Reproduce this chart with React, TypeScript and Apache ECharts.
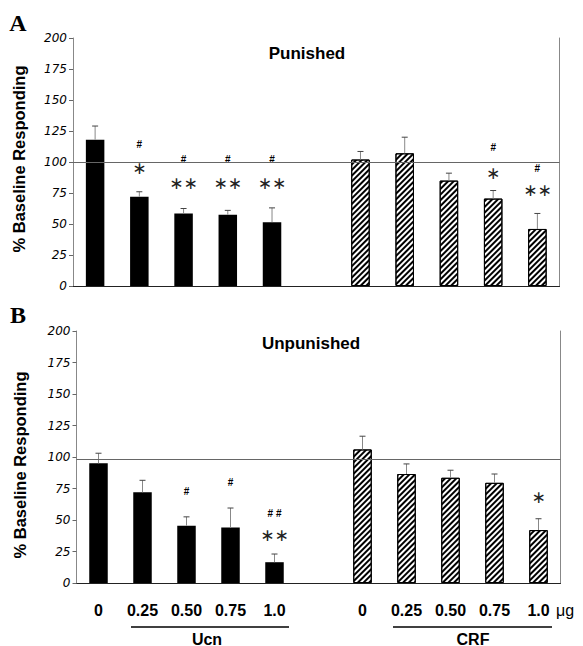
import React, { useEffect, useRef } from "react";
import * as echarts from "echarts";

// Categories (index 5 is the gap between the two drug groups)
const CATS = ["0", "0.25", "0.50", "0.75", "1.0", "", "0", "0.25", "0.50", "0.75", "1.0"];
const UCN_IDX = [0, 1, 2, 3, 4];
const CRF_IDX = [6, 7, 8, 9, 10];

// Panel A: Punished
const UCN_PUN = [118, 72, 58.5, 57.5, 51.5];
const UCN_PUN_ERR = [129, 76, 62.5, 61, 63];
const CRF_PUN = [102, 107, 85, 70.5, 46];
const CRF_PUN_ERR = [108.5, 120, 91, 77, 58.5];

// Panel B: Unpunished
const UCN_UNP = [95, 72, 45.5, 44, 16.5];
const UCN_UNP_ERR = [103, 81.5, 52.5, 59.5, 23];
const CRF_UNP = [106, 86.5, 83.5, 79.5, 42];
const CRF_UNP_ERR = [116.5, 94.5, 89.5, 86.5, 51];

// Reference (baseline) lines
const REF_LINES = [100, 98.5];

// Significance marks: [category, y, text]
const PUN_MARKS: [number, number, string][] = [
  [1, 114.5, "#"], [1, 95, "*"],
  [2, 102, "#"], [2, 83, "**"],
  [3, 102, "#"], [3, 83, "**"],
  [4, 102, "#"], [4, 83, "**"],
  [9, 112, "#"], [9, 91, "*"],
  [10, 95, "#"], [10, 77.5, "**"],
];
const UNP_MARKS: [number, number, string][] = [
  [2, 72.5, "#"],
  [3, 80, "#"],
  [4, 55.5, "##"], [4, 38, "**"],
  [10, 68, "*"],
];

const Y_TICKS = { min: 0, max: 200, interval: 25 };

function fill(idx: number[], vals: number[]): (number | string)[] {
  const out: (number | string)[] = CATS.map(() => "-");
  idx.forEach((c, i) => (out[c] = vals[i]));
  return out;
}

function errData(idx: number[], vals: number[], tops: number[]) {
  return idx.map((c, i) => [c, vals[i], tops[i]]);
}

export default function App() {
  const ref = useRef<HTMLDivElement>(null);
  useEffect(() => {
    if (!ref.current) return;
    const chart = echarts.init(ref.current, undefined, { renderer: "svg" });

    const grids = [
      { left: 73, right: 23.5, top: 38, height: 248 },
      { left: 76.5, right: 22.5, top: 331, height: 252 },
    ];

    const xAxes: any[] = [];
    const yAxes: any[] = [];
    grids.forEach((_, g) => {
      xAxes.push({
        type: "category",
        gridIndex: g,
        data: CATS,
        position: "bottom",
        axisLine: { show: true, lineStyle: { color: "#888", width: 1 } },
        axisTick: { show: false },
        axisLabel: g === 1
          ? { show: true, color: "#000", fontWeight: "bold", fontSize: 16, fontFamily: "Liberation Sans", margin: 19, interval: 0 }
          : { show: false },
        splitLine: { show: false },
      });
      xAxes.push({
        type: "category",
        gridIndex: g,
        data: CATS,
        position: "top",
        axisLine: { show: true, lineStyle: { color: "#222", width: 1 } },
        axisTick: { show: false },
        axisLabel: { show: false },
      });
      yAxes.push({
        type: "value",
        gridIndex: g,
        min: Y_TICKS.min,
        max: Y_TICKS.max,
        interval: Y_TICKS.interval,
        axisLine: { show: true, lineStyle: { color: "#888", width: 1 } },
        axisTick: { show: true, length: 4, lineStyle: { color: "#666" } },
        axisLabel: { color: "#000", fontStyle: "italic", fontFamily: "DejaVu Sans", fontSize: 12, margin: 6 },
        splitLine: { show: false },
      });
      yAxes.push({
        type: "value",
        gridIndex: g,
        position: "right",
        min: Y_TICKS.min,
        max: Y_TICKS.max,
        axisLine: { show: true, lineStyle: { color: "#888", width: 1 } },
        axisTick: { show: false },
        axisLabel: { show: false },
        splitLine: { show: false },
      });
    });

    const hatch = {
      symbol: "rect",
      symbolSize: 1,
      color: "#000",
      backgroundColor: "#fff",
      dashArrayX: [1, 0],
      dashArrayY: [1.5, 1.5],
      rotation: -Math.PI / 4,
    };

    const errRender = (params: any, api: any) => {
      const x = api.value(0);
      const m = api.value(1);
      const t = api.value(2);
      const p0 = api.coord([x, m]);
      const p1 = api.coord([x, t]);
      return {
        type: "group",
        children: [
          { type: "line", shape: { x1: p0[0], y1: p0[1], x2: p1[0], y2: p1[1] }, style: { stroke: "#888", lineWidth: 1 } },
          { type: "line", shape: { x1: p1[0] - 3, y1: p1[1], x2: p1[0] + 3, y2: p1[1] }, style: { stroke: "#444", lineWidth: 1 } },
        ],
      };
    };

    const markRender = (marks: [number, number, string][]) => (params: any, api: any) => {
      const mk = marks[params.dataIndex];
      const p = api.coord([mk[0], mk[1]]);
      const txt = mk[2];
      const isStar = txt.indexOf("*") >= 0;
      const text = isStar
        ? txt.replace(/\*/g, "\u2217")
        : txt.split("").join(" ");
      return {
        type: "text",
        x: p[0],
        y: p[1],
        style: {
          text,
          fill: isStar ? "#222" : "#000",
          font: isStar ? "17px 'DejaVu Sans'" : "bold 10px 'Liberation Sans'",
          align: "center",
          verticalAlign: "middle",
        },
      };
    };

    const panels = [
      { ucn: UCN_PUN, ucnErr: UCN_PUN_ERR, crf: CRF_PUN, crfErr: CRF_PUN_ERR, marks: PUN_MARKS },
      { ucn: UCN_UNP, ucnErr: UCN_UNP_ERR, crf: CRF_UNP, crfErr: CRF_UNP_ERR, marks: UNP_MARKS },
    ];

    const series: any[] = [];
    panels.forEach((p, g) => {
      const xi = g * 2;
      const yi = g * 2;
      series.push({
        type: "bar",
        name: "Ucn" + g,
        xAxisIndex: xi,
        yAxisIndex: yi,
        data: fill(UCN_IDX, p.ucn),
        barWidth: 18.5,
        barGap: "-100%",
        itemStyle: { color: "#000", borderColor: "#000", borderWidth: 0 },
        markLine: {
          silent: true,
          symbol: "none",
          label: { show: false },
          lineStyle: { color: "#666", width: 1, type: "solid" },
          data: [{ yAxis: REF_LINES[g] }],
        },
        z: 2,
      });
      series.push({
        type: "bar",
        name: "CRF" + g,
        xAxisIndex: xi,
        yAxisIndex: yi,
        data: fill(CRF_IDX, p.crf),
        barWidth: 18.5,
        barGap: "-100%",
        itemStyle: { color: "#fff", borderColor: "#000", borderWidth: 1, decal: hatch },
        z: 2,
      });
      series.push({
        type: "custom",
        xAxisIndex: xi,
        yAxisIndex: yi,
        data: [...errData(UCN_IDX, p.ucn, p.ucnErr), ...errData(CRF_IDX, p.crf, p.crfErr)],
        encode: { x: 0, y: [1, 2] },
        renderItem: errRender,
        z: 3,
      });
      series.push({
        type: "custom",
        xAxisIndex: xi,
        yAxisIndex: yi,
        data: p.marks.map((m) => [m[0], m[1]]),
        encode: { x: 0, y: 1 },
        renderItem: markRender(p.marks),
        z: 4,
      });
    });

    const option: any = {
      animation: false,
      aria: { enabled: false },
      textStyle: { fontFamily: "Liberation Sans" },
      grid: grids.map((g) => ({ ...g, containLabel: false })),
      xAxis: xAxes,
      yAxis: yAxes,
      series,
      graphic: [
        { type: "text", x: 18, y: 23, style: { text: "A", font: "bold 24px 'Liberation Serif'", fill: "#000", align: "center", verticalAlign: "middle" } },
        { type: "text", x: 18, y: 315, style: { text: "B", font: "bold 24px 'Liberation Serif'", fill: "#000", align: "center", verticalAlign: "middle" } },
        { type: "text", x: 307, y: 53, style: { text: "Punished", font: "bold 17px 'Liberation Sans'", fill: "#000", align: "center", verticalAlign: "middle" } },
        { type: "text", x: 311, y: 343, style: { text: "Unpunished", font: "bold 17px 'Liberation Sans'", fill: "#000", align: "center", verticalAlign: "middle" } },
        { type: "text", x: 19, y: 159, rotation: Math.PI / 2, style: { text: "% Baseline Responding", font: "bold 16.5px 'Liberation Sans'", fill: "#000", align: "center", verticalAlign: "middle" } },
        { type: "text", x: 19.5, y: 465, rotation: Math.PI / 2, style: { text: "% Baseline Responding", font: "bold 16.5px 'Liberation Sans'", fill: "#000", align: "center", verticalAlign: "middle" } },
        { type: "text", x: 565, y: 610, style: { text: "\u03bcg", font: "16px 'Liberation Sans'", fill: "#000", align: "center", verticalAlign: "middle" } },
        { type: "line", shape: { x1: 131, y1: 627, x2: 289, y2: 627 }, style: { stroke: "#000", lineWidth: 1.5 } },
        { type: "line", shape: { x1: 393, y1: 627, x2: 552, y2: 627 }, style: { stroke: "#000", lineWidth: 1.5 } },
        { type: "text", x: 207, y: 639, style: { text: "Ucn", font: "bold 16px 'Liberation Sans'", fill: "#000", align: "center", verticalAlign: "middle" } },
        { type: "text", x: 473, y: 639, style: { text: "CRF", font: "bold 16px 'Liberation Sans'", fill: "#000", align: "center", verticalAlign: "middle" } },
      ],
    };
    chart.setOption(option);
    return () => chart.dispose();
  }, []);

  return (
    <div
      ref={ref}
      style={{ position: "fixed", left: 0, top: 0, width: 583, height: 646, background: "#fff" }}
    />
  );
}
